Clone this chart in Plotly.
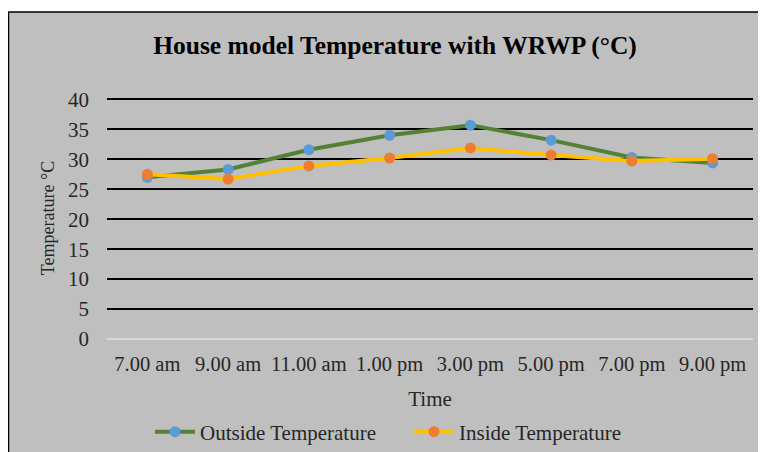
import plotly.graph_objects as go

times = ["7.00 am", "9.00 am", "11.00 am", "1.00 pm", "3.00 pm", "5.00 pm", "7.00 pm", "9.00 pm"]
outside_temp = [27.0, 28.3, 31.6, 34.0, 35.7, 33.2, 30.3, 29.4]
inside_temp = [27.5, 26.7, 28.9, 30.2, 31.9, 30.7, 29.7, 30.1]

# page is shown with an 8px body margin, so the figure is 8px smaller and offset
OFF = 8
W, H = 766 - OFF, 452 - OFF
L, R, T, B = 107 - OFF, 13, 97 - OFF, 113
pw, ph = W - L - R, H - T - B

font = "Liberation Serif, Times New Roman, serif"

fig = go.Figure()
fig.add_trace(go.Scatter(
    x=times, y=outside_temp, name="Outside Temperature", mode="lines+markers",
    line=dict(color="#548235", width=4), marker=dict(color="#5B9BD5", size=11),
))
fig.add_trace(go.Scatter(
    x=times, y=inside_temp, name="Inside Temperature", mode="lines+markers",
    line=dict(color="#FFC000", width=4), marker=dict(color="#ED7D31", size=11),
))

# chart box (page coords left 7, top 12)
bx0 = max(7 - OFF, 0.5)
by0 = 12 - OFF
x0 = (bx0 - L) / pw
x1 = (W + 5 - L) / pw
y1 = (H - B - by0) / ph
y0 = (H - B - H - 5) / ph
fig.add_shape(type="rect", xref="paper", yref="paper", x0=x0, x1=x1, y0=y0, y1=y1,
              fillcolor="#BFBFBF", line=dict(color="black", width=1.5), layer="below")

fig.update_layout(
    width=W, height=H,
    margin=dict(l=L, r=R, t=T, b=B, autoexpand=False),
    paper_bgcolor="white", plot_bgcolor="rgba(0,0,0,0)",
    font=dict(family=font, size=20, color="#262626"),
    title=dict(text="<b>House model Temperature with WRWP (°C)</b>", x=(395 - OFF) / W, xref="container",
               xanchor="center", y=1 - (45 - OFF) / H, yref="container", yanchor="middle",
               font=dict(family=font, size=25.5, color="black")),
    showlegend=True,
    legend=dict(orientation="h", x=(150 - OFF) / W, xref="container", xanchor="left",
                y=1 - (432 - OFF) / H, yref="container", yanchor="middle",
                font=dict(family=font, size=21, color="#262626"),
                bgcolor="rgba(0,0,0,0)", itemwidth=40, tracegroupgap=0,
                entrywidth=204, entrywidthmode="pixels"),
    xaxis=dict(
        type="category", showgrid=False, showline=False, zeroline=False, automargin=False,
        ticks="", ticklabelstandoff=10, tickfont=dict(size=20.5),
        title=dict(text="Time", font=dict(size=21), standoff=16),
        range=[-0.5, 7.5],
    ),
    yaxis=dict(
        range=[0, 40.4], dtick=5, showgrid=True, gridcolor="black", gridwidth=2,
        zeroline=True, zerolinecolor="#D9D9D9", zerolinewidth=2, automargin=False,
        ticks="", ticklabelstandoff=17, tickfont=dict(size=21),
        title=dict(text="Temperature °C", font=dict(size=18), standoff=8),
    ),
)

fig.write_html("out.html")
